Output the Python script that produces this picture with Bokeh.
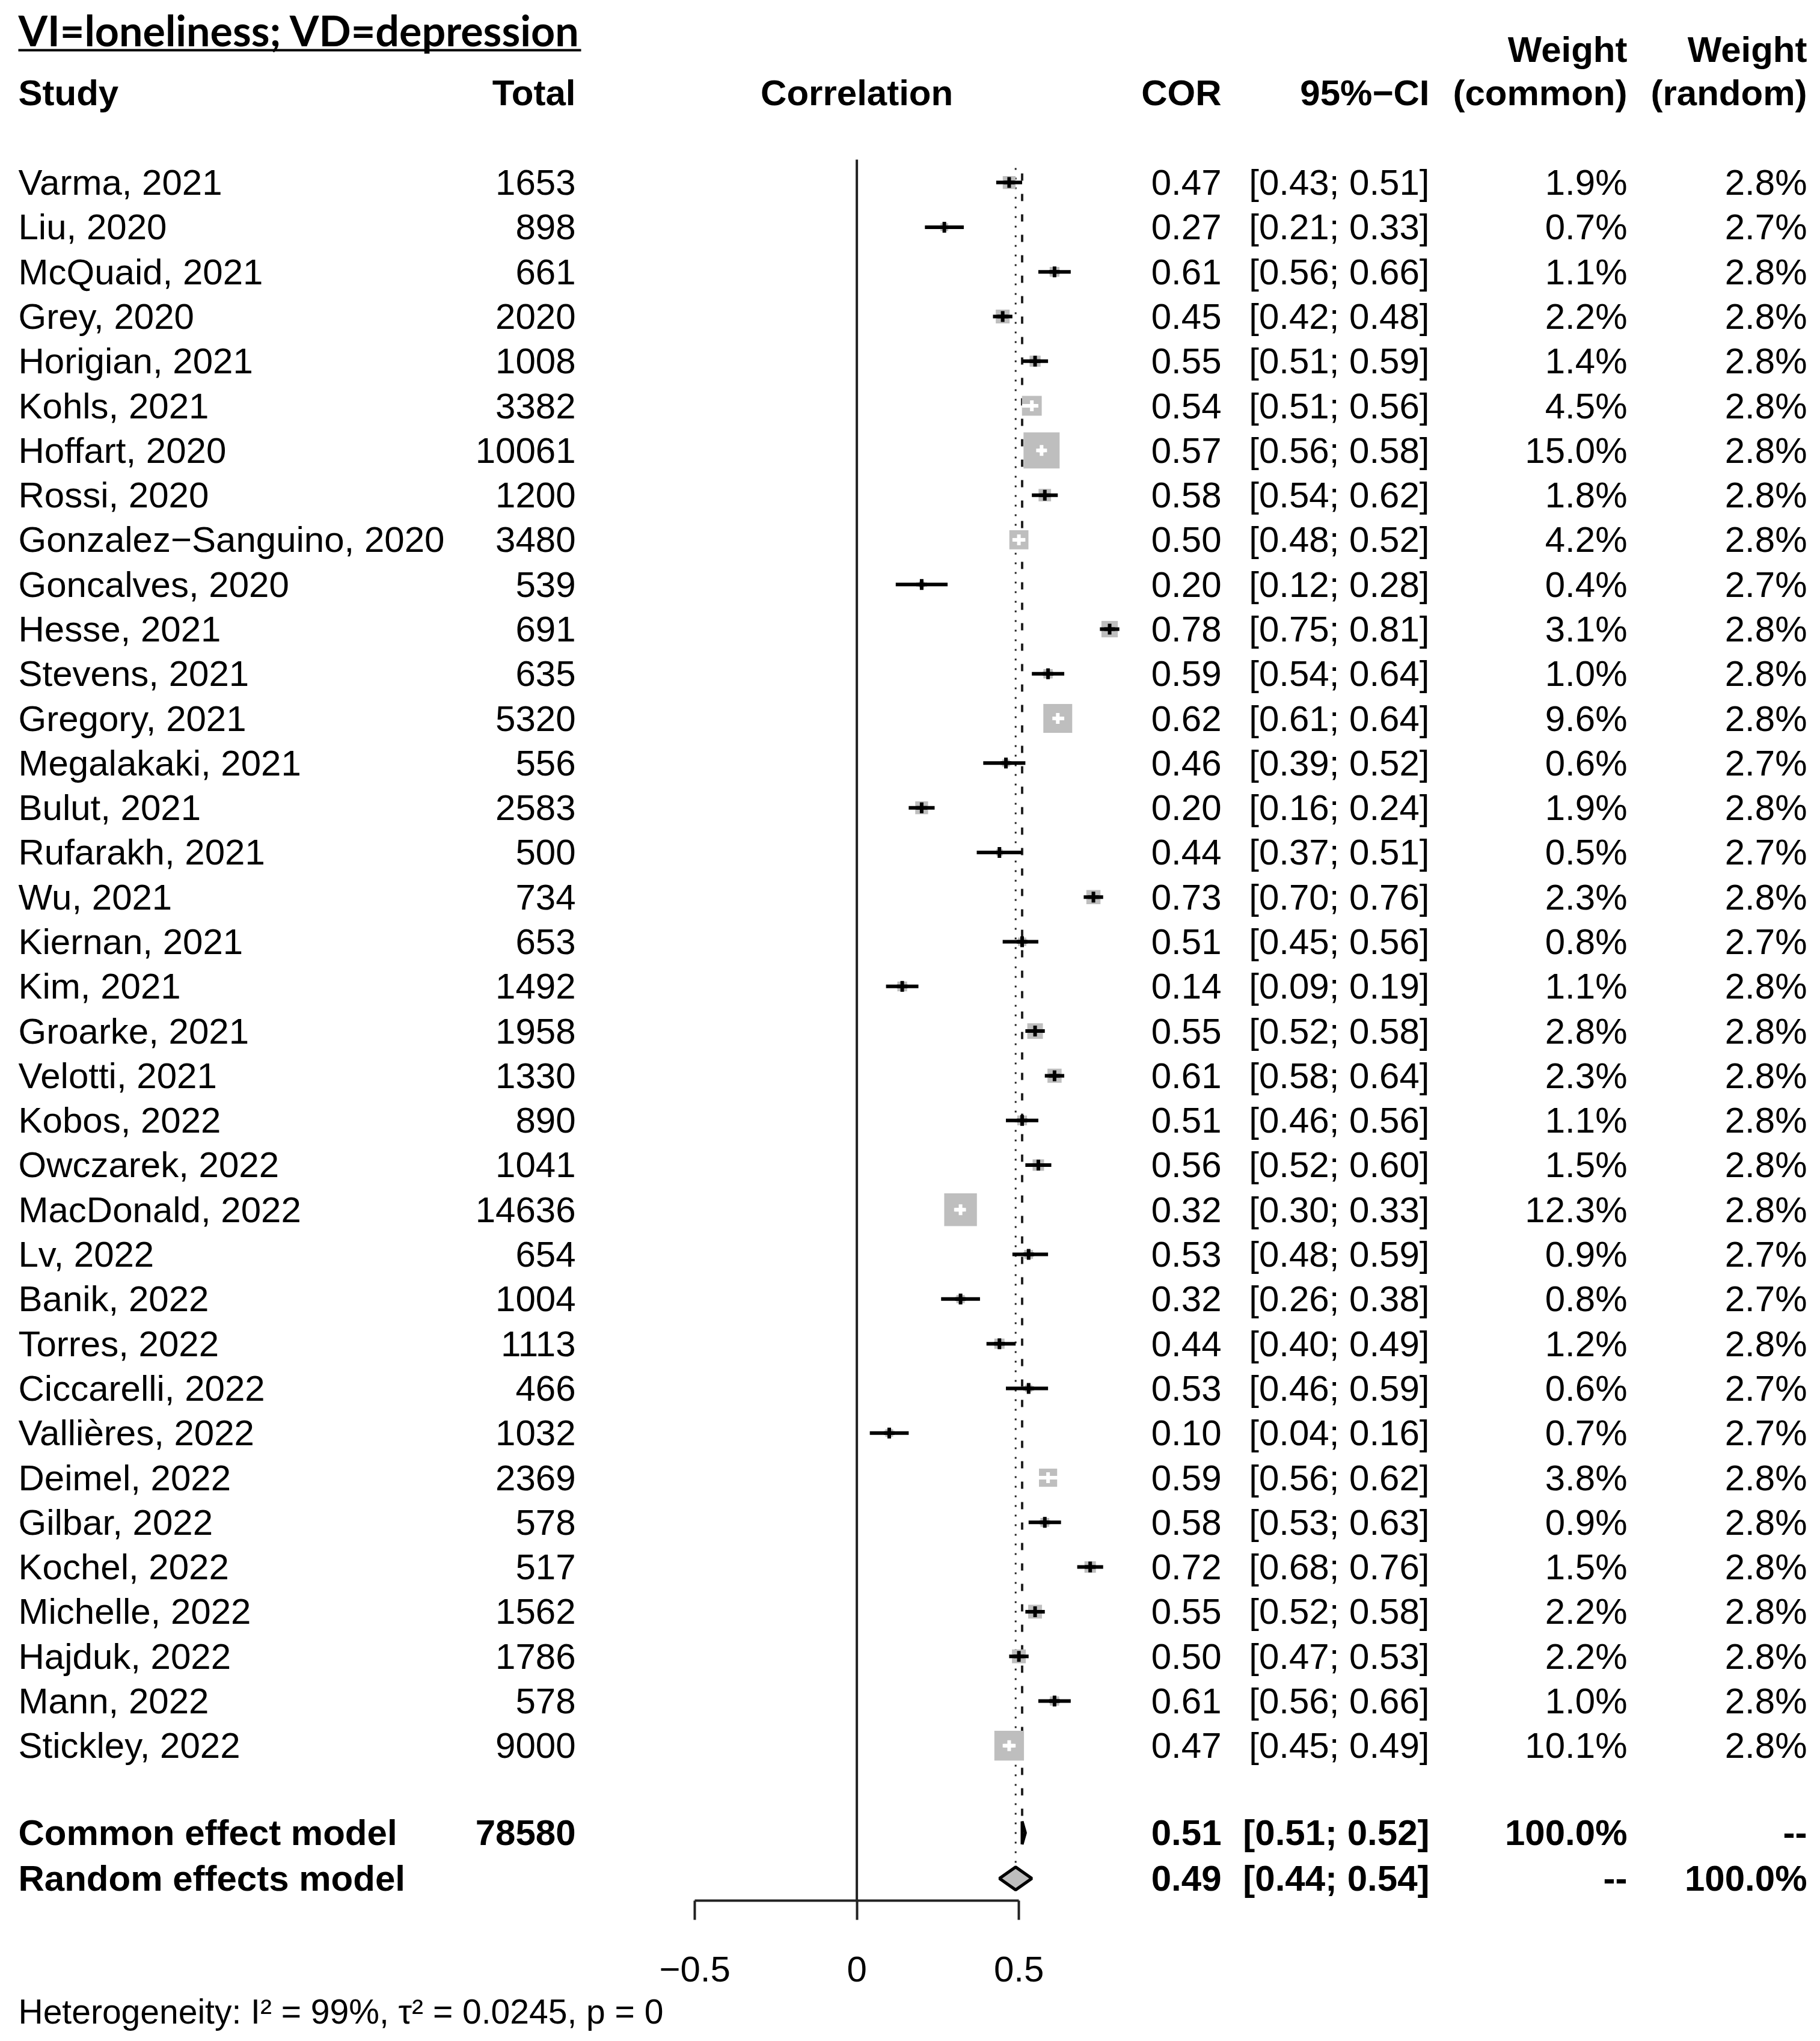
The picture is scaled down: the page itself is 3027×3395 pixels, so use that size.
import math
from bokeh.plotting import figure
from bokeh.models import Range1d, LinearAxis, FixedTicker, CustomJSTickFormatter, Title
from bokeh.core.properties import value
from bokeh.embed import file_html
from bokeh.resources import INLINE

# ---------------- data ----------------
studies = ["Varma, 2021", "Liu, 2020", "McQuaid, 2021", "Grey, 2020", "Horigian, 2021",
           "Kohls, 2021", "Hoffart, 2020", "Rossi, 2020", "Gonzalez\u2212Sanguino, 2020",
           "Goncalves, 2020", "Hesse, 2021", "Stevens, 2021", "Gregory, 2021",
           "Megalakaki,  2021", "Bulut, 2021", "Rufarakh, 2021", "Wu, 2021", "Kiernan, 2021",
           "Kim, 2021", "Groarke, 2021", "Velotti, 2021", "Kobos, 2022", "Owczarek, 2022",
           "MacDonald, 2022", "Lv, 2022", "Banik, 2022", "Torres, 2022", "Ciccarelli, 2022",
           "Valli\u00e8res, 2022", "Deimel, 2022", "Gilbar, 2022", "Kochel, 2022",
           "Michelle, 2022", "Hajduk, 2022", "Mann, 2022", "Stickley, 2022"]
totals = [1653, 898, 661, 2020, 1008, 3382, 10061, 1200, 3480, 539, 691, 635, 5320, 556,
          2583, 500, 734, 653, 1492, 1958, 1330, 890, 1041, 14636, 654, 1004, 1113, 466,
          1032, 2369, 578, 517, 1562, 1786, 578, 9000]
cor = [0.47, 0.27, 0.61, 0.45, 0.55, 0.54, 0.57, 0.58, 0.50, 0.20, 0.78, 0.59, 0.62, 0.46,
       0.20, 0.44, 0.73, 0.51, 0.14, 0.55, 0.61, 0.51, 0.56, 0.32, 0.53, 0.32, 0.44, 0.53,
       0.10, 0.59, 0.58, 0.72, 0.55, 0.50, 0.61, 0.47]
ci_low = [0.43, 0.21, 0.56, 0.42, 0.51, 0.51, 0.56, 0.54, 0.48, 0.12, 0.75, 0.54, 0.61, 0.39,
          0.16, 0.37, 0.70, 0.45, 0.09, 0.52, 0.58, 0.46, 0.52, 0.30, 0.48, 0.26, 0.40, 0.46,
          0.04, 0.56, 0.53, 0.68, 0.52, 0.47, 0.56, 0.45]
ci_high = [0.51, 0.33, 0.66, 0.48, 0.59, 0.56, 0.58, 0.62, 0.52, 0.28, 0.81, 0.64, 0.64, 0.52,
           0.24, 0.51, 0.76, 0.56, 0.19, 0.58, 0.64, 0.56, 0.60, 0.33, 0.59, 0.38, 0.49, 0.59,
           0.16, 0.62, 0.63, 0.76, 0.58, 0.53, 0.66, 0.49]
w_common = [1.9, 0.7, 1.1, 2.2, 1.4, 4.5, 15.0, 1.8, 4.2, 0.4, 3.1, 1.0, 9.6, 0.6, 1.9, 0.5,
            2.3, 0.8, 1.1, 2.8, 2.3, 1.1, 1.5, 12.3, 0.9, 0.8, 1.2, 0.6, 0.7, 3.8, 0.9, 1.5,
            2.2, 2.2, 1.0, 10.1]
w_random = [2.8, 2.7, 2.8, 2.8, 2.8, 2.8, 2.8, 2.8, 2.8, 2.7, 2.8, 2.8, 2.8, 2.7, 2.8, 2.7,
            2.8, 2.7, 2.8, 2.8, 2.8, 2.8, 2.8, 2.8, 2.7, 2.7, 2.8, 2.7, 2.7, 2.8, 2.8, 2.8,
            2.8, 2.8, 2.8, 2.8]

common_total = 78580
common_est, common_lo, common_hi = 0.51, 0.51, 0.52
random_est, random_lo, random_hi = 0.49, 0.44, 0.54
axis_ticks = [-0.5, 0, 0.5]
heterogeneity = "Heterogeneity: I\u00b2 = 99%, \u03c4\u00b2 = 0.0245, p = 0"
title_text = "VI=loneliness; VD=depression"

# ---------------- layout (pixels) ----------------
W, FH = 3019, 3161
PX_PER_UNIT = 539.0
ZERO_PX = 1424.6
ROW0, STEP = 303.1, 74.29
y_rows = [ROW0 + i * STEP for i in range(len(studies))]
Y_COMMON, Y_RANDOM = 3048.3, 3124.1
Y_HEAD, Y_WEIGHT, Y_TITLE, Y_UNDER = 153.7, 82.3, 49.0, 83.0
X_STUDY, X_TOTAL, X_COR, X_CI, X_WC, X_WR = 30, 957, 2031, 2377, 2706, 3005
FONT = "Liberation Sans"
FS = "60px"

p = figure(frame_width=W, frame_height=FH,
           x_range=Range1d(0, W), y_range=Range1d(FH, 0),
           x_axis_location=None, y_axis_location=None,
           toolbar_location=None, output_backend="svg", min_border=0)
p.extra_x_ranges = {"cor": Range1d(-ZERO_PX / PX_PER_UNIT, (W - ZERO_PX) / PX_PER_UNIT)}
p.outline_line_color = None
p.background_fill_color = "white"
p.border_fill_color = "white"
for g in p.grid:
    g.visible = False


def txt(xs, ys, texts, align, bold=False, size=FS, font=FONT, rng="default"):
    p.text(x=xs, y=ys, text=texts, text_align=align, text_baseline="middle",
           text_font=value(font), text_font_size=value(size),
           text_font_style="bold" if bold else "normal", text_color="black",
           x_range_name=rng)


# title with underline
txt([X_STUDY], [Y_TITLE], [title_text], "left", bold=True, size="70px", font="Lato")
p.segment(x0=[X_STUDY], y0=[Y_UNDER], x1=[X_STUDY + 936], y1=[Y_UNDER],
          line_color="black", line_width=4)

# headers
txt([X_STUDY], [Y_HEAD], ["Study"], "left", bold=True)
txt([X_TOTAL], [Y_HEAD], ["Total"], "right", bold=True)
txt([0], [Y_HEAD], ["Correlation"], "center", bold=True, rng="cor")
txt([X_COR, X_CI, X_WC, X_WR], [Y_HEAD] * 4, ["COR", "95%\u2212CI", "(common)", "(random)"],
    "right", bold=True)
txt([X_WC, X_WR], [Y_WEIGHT] * 2, ["Weight", "Weight"], "right", bold=True)

# study rows text
n = len(studies)
txt([X_STUDY] * n, y_rows, studies, "left")
txt([X_TOTAL] * n, y_rows, [str(t) for t in totals], "right")
txt([X_COR] * n, y_rows, [f"{c:.2f}" for c in cor], "right")
txt([X_CI] * n, y_rows, [f"[{lo:.2f}; {hi:.2f}]" for lo, hi in zip(ci_low, ci_high)], "right")
txt([X_WC] * n, y_rows, [f"{w:.1f}%" for w in w_common], "right")
txt([X_WR] * n, y_rows, [f"{w:.1f}%" for w in w_random], "right")

# summary rows text
txt([X_STUDY, X_STUDY], [Y_COMMON, Y_RANDOM], ["Common effect model", "Random effects model"],
    "left", bold=True)
txt([X_TOTAL], [Y_COMMON], [str(common_total)], "right", bold=True)
txt([X_COR, X_COR], [Y_COMMON, Y_RANDOM], [f"{common_est:.2f}", f"{random_est:.2f}"],
    "right", bold=True)
txt([X_CI, X_CI], [Y_COMMON, Y_RANDOM],
    [f"[{common_lo:.2f}; {common_hi:.2f}]", f"[{random_lo:.2f}; {random_hi:.2f}]"],
    "right", bold=True)
txt([X_WC, X_WC], [Y_COMMON, Y_RANDOM], ["100.0%", "--"], "right", bold=True)
txt([X_WR, X_WR], [Y_COMMON, Y_RANDOM], ["--", "100.0%"], "right", bold=True)

# reference lines
p.segment(x0=[0], y0=[265], x1=[0], y1=[FH], line_color="#222222", line_width=4,
          x_range_name="cor")
p.segment(x0=[random_est], y0=[279], x1=[random_est], y1=[Y_RANDOM - 20],
          line_color="#222222", line_width=3, line_dash="3 13", x_range_name="cor")
p.segment(x0=[common_est], y0=[288], x1=[common_est], y1=[Y_COMMON - 20],
          line_color="#222222", line_width=4, line_dash="12 22", x_range_name="cor")

# study squares and CIs
sides = [15.5 * math.sqrt(w) for w in w_common]
inside = [(hi - lo) * PX_PER_UNIT <= s * 1.1 for lo, hi, s in zip(ci_low, ci_high, sides)]
colors = ["white" if i else "black" for i in inside]
p.scatter(x=cor, y=y_rows, size=sides, marker="square", fill_color="#BEBEBE",
          line_color=None, x_range_name="cor")
p.segment(x0=ci_low, y0=y_rows, x1=ci_high, y1=y_rows, line_color=colors, line_width=6,
          x_range_name="cor")
p.scatter(x=cor, y=y_rows, size=18, marker="cross", line_color=colors, line_width=6,
          x_range_name="cor")

# summary diamonds
H = 19
p.patches(xs=[[common_lo, common_est, common_hi, common_est],
              [random_lo, random_est, random_hi, random_est]],
          ys=[[Y_COMMON, Y_COMMON - H, Y_COMMON, Y_COMMON + H],
              [Y_RANDOM, Y_RANDOM - H, Y_RANDOM, Y_RANDOM + H]],
          fill_color="#BEBEBE", line_color="black", line_width=5, x_range_name="cor")

# axis
ax = LinearAxis(x_range_name="cor", ticker=FixedTicker(ticks=axis_ticks), bounds=(-0.5, 0.5),
                formatter=CustomJSTickFormatter(
                    code="return tick < 0 ? '\u2212' + Math.abs(tick) : String(tick);"))
ax.major_tick_out = 32
ax.major_tick_in = 0
ax.minor_tick_out = 0
ax.minor_tick_in = 0
ax.axis_line_width = 4
ax.axis_line_color = "#222222"
ax.major_tick_line_width = 4
ax.major_tick_line_color = "#222222"
ax.major_label_text_font = FONT
ax.major_label_text_font_size = FS
ax.major_label_text_color = "black"
ax.major_label_standoff = 61
p.add_layout(ax, "below")

het = Title(text=heterogeneity, align="left", offset=30, text_font=FONT,
            text_font_size="57px", text_font_style="normal", text_color="black", standoff=26)
p.add_layout(het, "below")

open("out.html", "w").write(file_html(p, INLINE))
